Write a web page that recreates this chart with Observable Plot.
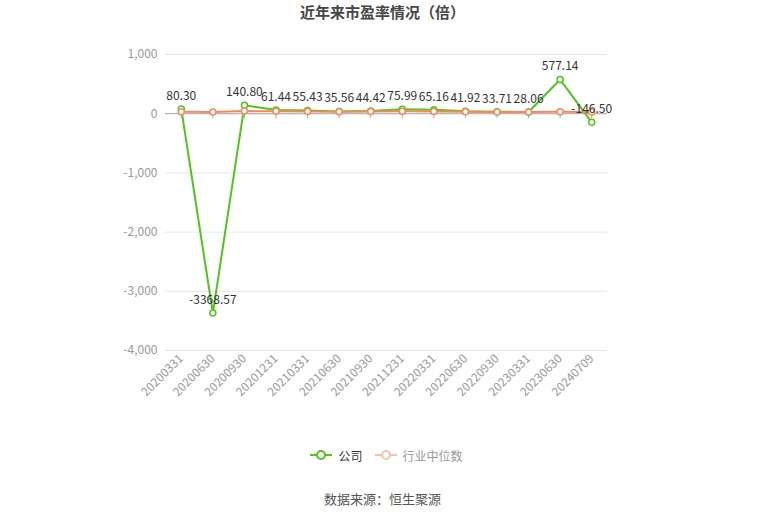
<!DOCTYPE html>
<html>
<head>
<meta charset="utf-8">
<script src="https://cdn.jsdelivr.net/npm/d3@7"></script>
<script src="https://cdn.jsdelivr.net/npm/@observablehq/plot@0.6"></script>
<style>
  html, body { margin: 0; padding: 0; background: #fff; }
  body { width: 765px; height: 517px; overflow: hidden; font-family: "Noto Sans CJK SC", "Noto Sans", sans-serif; }
  #title { height: 26px; line-height: 24px; text-align: center; font-size: 15px; font-weight: bold; color: #464646; }
  #legend { height: 38px; display: flex; justify-content: center; align-items: center; font-size: 12px; gap: 12px; margin-top: 0px; padding-left: 8px; }
  #legend .item { display: flex; align-items: center; gap: 6px; }
  #caption { text-align: center; font-size: 13px; color: #555; margin-top: 15px; }
</style>
</head>
<body>
<div id="title">近年来市盈率情况（倍）</div>
<div id="chart"></div>
<div id="legend">
  <div class="item"><svg width="22" height="12"><line x1="0" y1="6" x2="22" y2="6" stroke="#52c41a" stroke-width="2"/><circle cx="11" cy="6" r="4" fill="#fff" stroke="#52c41a" stroke-width="2"/></svg><span style="color:#333">公司</span></div>
  <div class="item"><svg width="22" height="12"><line x1="0" y1="6" x2="22" y2="6" stroke="#f9c2a8" stroke-width="2"/><circle cx="11" cy="6" r="4" fill="#fff" stroke="#f9c2a8" stroke-width="2"/></svg><span style="color:#999">行业中位数</span></div>
</div>
<div id="caption">数据来源：恒生聚源</div>
<script>
const dates = ["20200331","20200630","20200930","20201231","20210331","20210630","20210930","20211231","20220331","20220630","20220930","20230331","20230630","20240709"];
const company = [80.30, -3368.57, 140.80, 61.44, 55.43, 35.56, 44.42, 75.99, 65.16, 41.92, 33.71, 28.06, 577.14, -146.50];
const industry = [35, 28, 45, 40, 38, 33, 38, 42, 38, 32, 28, 30, 32, 28];
const yTicks = [1000, 0, -1000, -2000, -3000, -4000];

const comp = dates.map((d, i) => ({date: d, value: company[i]}));
const ind = dates.map((d, i) => ({date: d, value: industry[i]}));
const fmt = d3.formatLocale({decimal: ".", thousands: ",", grouping: [3], currency: ["", ""], minus: "-"}).format(",");

const green = "#52c41a";
const orange = "#f5895c";

const chart = Plot.plot({
  width: 765,
  height: 410,
  marginTop: 28,
  marginBottom: 86,
  marginLeft: 165,
  marginRight: 158,
  style: {fontFamily: "'Noto Sans CJK SC', 'Noto Sans', sans-serif", fontSize: "12px", background: "#fff"},
  x: {type: "point", domain: dates, padding: 0.5, round: false, label: null},
  y: {domain: [-4000, 1000], label: null},
  marks: [
    Plot.gridY(yTicks, {stroke: "#e0e6f1", strokeOpacity: 1, strokeWidth: 1}),
    Plot.axisY(yTicks, {tickSize: 0, tickPadding: 8, tickFormat: fmt, fill: "#999", fontSize: 12, label: null}),
    Plot.ruleY([0], {stroke: "#aaa", strokeWidth: 1}),
    Plot.ruleX(dates, {x: d => d, y1: 0, y2: -85, stroke: "#aaa"}),
    Plot.axisX({tickSize: 0, tickRotate: -45, tickPadding: 6, fill: "#999", fontSize: 12, label: null, anchor: "bottom"}),
    Plot.line(comp, {x: "date", y: "value", stroke: green, strokeWidth: 2}),
    Plot.dot(comp, {x: "date", y: "value", r: 3, fill: "#fff", stroke: green, strokeWidth: 1.5}),
    Plot.line(ind, {x: "date", y: "value", stroke: orange, strokeWidth: 2}),
    Plot.dot(ind, {x: "date", y: "value", r: 3, fill: "#fff", stroke: orange, strokeWidth: 1.5}),
    Plot.text(comp, {x: "date", y: "value", text: d => d.value.toFixed(2), dy: -13, fill: "#333", fontSize: 12})
  ]
});

document.getElementById("chart").appendChild(chart);
</script>
</body>
</html>
